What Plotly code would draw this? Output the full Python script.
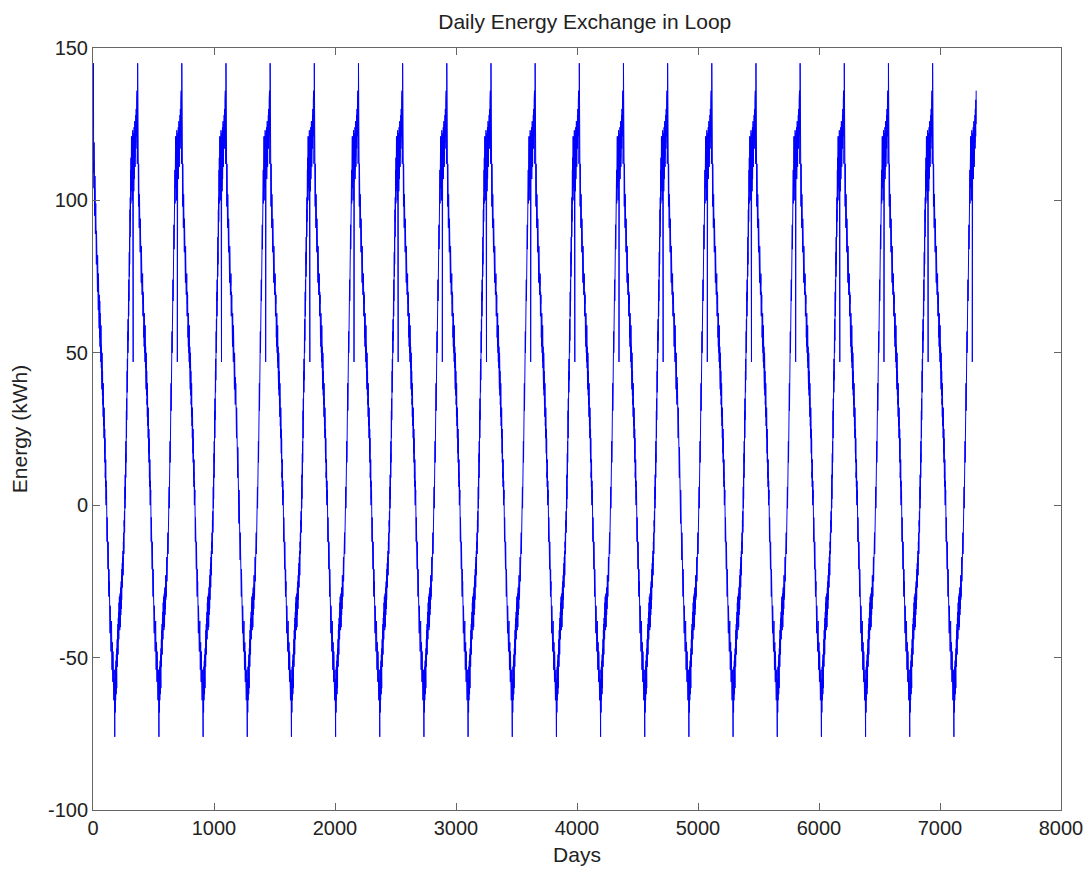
import plotly.graph_objects as go

# One-year daily profile of loop energy exchange (kWh)
year_profile = [
    124, 112, 131, 118, 145, 109, 122, 113, 104, 119,
    106, 98, 112, 95, 104, 99, 108, 91, 97, 102,
    89, 96, 85, 99, 88, 83, 94, 86, 79, 90,
    84, 77, 88, 80, 73, 85, 78, 70, 82, 74,
    79, 69, 75, 72, 64, 76, 67, 71, 62, 70,
    66, 58, 69, 61, 64, 55, 67, 59, 52, 63,
    57, 61, 50, 58, 53, 47, 59, 49, 54, 45,
    52, 43, 49, 46, 38, 50, 41, 45, 36, 44,
    39, 33, 42, 35, 29, 40, 31, 36, 26, 34,
    29, 22, 32, 24, 19, 28, 17, 25, 14, 22,
    16, 9, 19, 11, 6, 15, 3, 10, 0, 8,
    2, -6, 5, -3, -9, 1, -12, -4, -14, -7,
    -11, -18, -9, -16, -21, -12, -24, -17, -27, -19,
    -23, -30, -21, -28, -33, -25, -36, -29, -39, -31,
    -35, -42, -33, -40, -44, -36, -47, -39, -43, -48,
    -41, -50, -44, -38, -52, -46, -42, -54, -47, -51,
    -45, -56, -49, -53, -58, -48, -55, -61, -51, -57,
    -60, -52, -64, -56, -59, -67, -54, -62, -58, -65,
    -76, -57, -63, -55, -68, -59, -53, -64, -56, -60,
    -51, -58, -62, -49, -56, -52, -60, -47, -55, -50,
    -44, -53, -48, -41, -50, -45, -39, -49, -43, -37,
    -46, -40, -35, -44, -38, -32, -42, -36, -30, -39,
    -34, -41, -31, -37, -29, -35, -40, -30, -33, -27,
    -36, -28, -32, -25, -34, -29, -23, -31, -26, -21,
    -30, -24, -19, -27, -22, -17, -25, -20, -15, -23,
    -18, -12, -20, -14, -9, -16, -11, -5, -13, -7,
    -2, -9, 3, -4, 6, -1, 10, 2, 13, 7,
    17, 9, 21, 14, 26, 18, 31, 22, 35, 28,
    40, 31, 44, 37, 48, 41, 53, 45, 57, 50,
    61, 54, 66, 58, 70, 62, 74, 67, 79, 71,
    83, 75, 88, 79, 92, 84, 97, 88, 101, 93,
    106, 96, 110, 99, 114, 103, 118, 107, 121, 110,
    104, 116, 108, 121, 112, 100, 118, 109, 123, 113,
    106, 119, 47, 114, 108, 122, 111, 103, 117, 110,
    124, 107, 115, 120, 109, 126, 114, 118, 111, 121,
    116, 125, 112, 119, 128, 117, 123, 130, 119, 126,
    121, 133, 125, 129, 136,
]
n_years = 20

energy = year_profile * n_years
days = list(range(len(energy)))

x_ticks = [0, 1000, 2000, 3000, 4000, 5000, 6000, 7000, 8000]
x_tick_text = ["0", "1000", "2000", "3000", "4000", "5000", "6000", "7000", "8000"]
y_ticks = [-100, -50, 0, 50, 100, 150]
y_tick_text = ["-100", "-50", "0", "50", "100", "150"]

fig = go.Figure(go.Scatter(
    x=days, y=energy, mode="lines",
    line=dict(color="#0000ff", width=1),
    showlegend=False,
))

font = "Liberation Sans, Arial, sans-serif"
axis_common = dict(
    showline=True, linecolor="#666666", linewidth=1, mirror="ticks",
    ticks="inside", ticklen=7, tickcolor="#666666", tickwidth=1,
    showgrid=False, zeroline=False, automargin=False,
    tickfont=dict(family=font, size=20, color="#222222"),
)

fig.update_layout(
    width=1076, height=858,
    margin=dict(l=85, r=23, t=40, b=56),
    paper_bgcolor="white", plot_bgcolor="white",
    title=dict(text="Daily Energy Exchange in Loop", x=0.536, xanchor="center",
               y=1 - 14 / 858, yanchor="middle",
               font=dict(family=font, size=21, color="#222222")),
    xaxis=dict(range=[0, 8000], tickvals=x_ticks, ticktext=x_tick_text,
               title=dict(text="Days", font=dict(family=font, size=21, color="#222222"), standoff=12),
               **axis_common),
    yaxis=dict(range=[-100, 150], tickvals=y_ticks, ticktext=y_tick_text,
               title=dict(text="Energy (kWh)", font=dict(family=font, size=21, color="#222222"), standoff=14),
               **axis_common),
)

fig.write_html("out.html")
